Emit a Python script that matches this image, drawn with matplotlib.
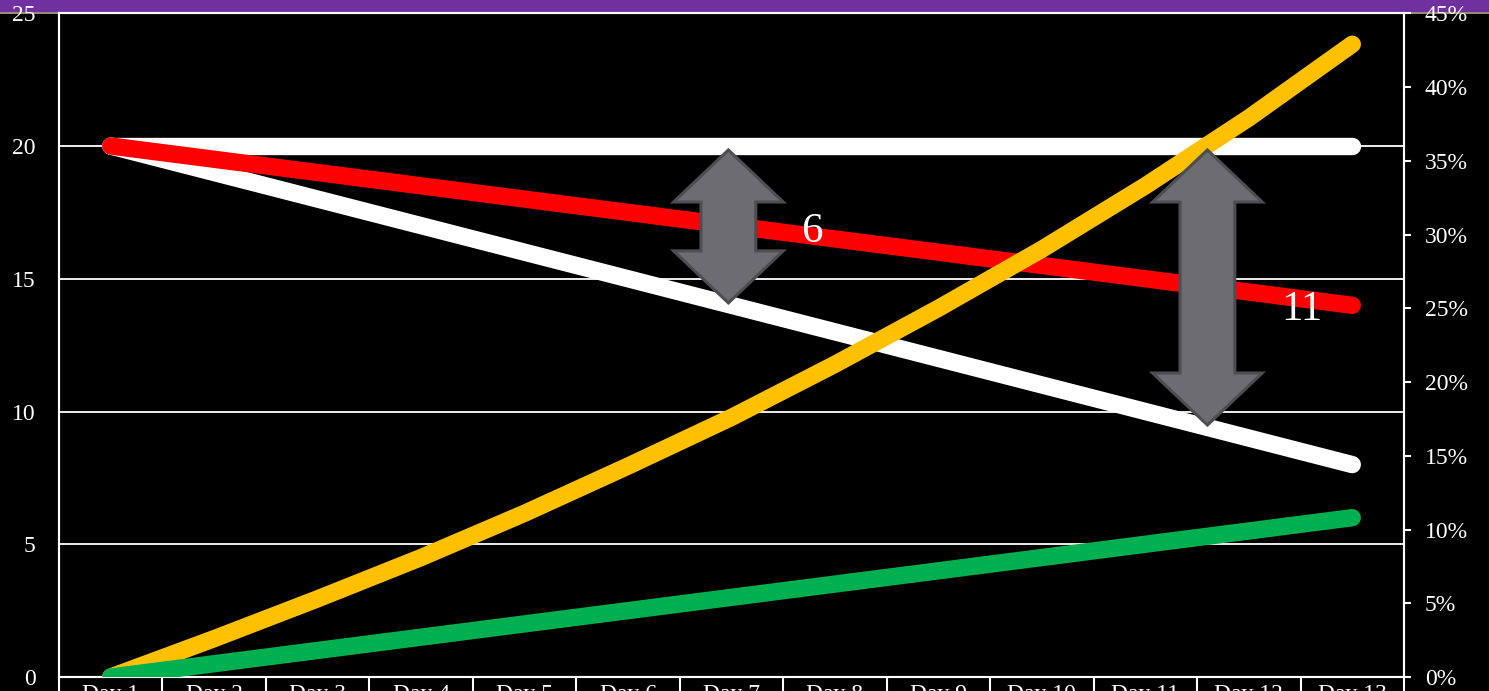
import matplotlib
matplotlib.use("Agg")
import matplotlib.pyplot as plt
from matplotlib.patches import Polygon, Rectangle
from matplotlib.lines import Line2D
from matplotlib.ticker import FuncFormatter, FixedLocator

plt.rcParams['font.family'] = ['Liberation Serif', 'DejaVu Serif']

# ---- data ----
days = [f"Day {i}" for i in range(1, 14)]
baseline = [20, 20, 20, 20, 20, 20, 20, 20, 20, 20, 20, 20, 20]
declining = [20, 19, 18, 17, 16, 15, 14, 13, 12, 11, 10, 9, 8]
red_series = [20, 19.5, 19, 18.5, 18, 17.5, 17, 16.5, 16, 15.5, 15, 14.5, 14]
green_series = [0, 0.5, 1, 1.5, 2, 2.5, 3, 3.5, 4, 4.5, 5, 5.5, 6]
yellow_pct = [0, 2.6, 5.3, 8.1, 11.1, 14.3, 17.6, 21.2, 25.0, 29.0, 33.3, 37.9, 42.9]
left_ticks = [0, 5, 10, 15, 20, 25]
right_ticks = [0, 5, 10, 15, 20, 25, 30, 35, 40, 45]
gap_labels = ["6", "11"]

W, H = 1489, 691
fig = plt.figure(figsize=(W / 100, H / 100), dpi=100, facecolor='black')
ax = fig.add_axes([59 / W, 14 / H, (1404 - 59) / W, (677 - 13.25) / H])
ax.set_facecolor('black')

# top band
fig.add_artist(Rectangle((0, 1 - 12 / H), 1, 12 / H, transform=fig.transFigure,
                         facecolor='#7030A0', edgecolor='none', zorder=-2))
fig.add_artist(Line2D([0, 1], [1 - 12.8 / H, 1 - 12.8 / H], transform=fig.transFigure,
                      color='#BBA98C', lw=1.2, zorder=-1))

x = list(range(len(days)))
lw = 12.5
ax.plot(x, baseline, color='white', lw=lw, solid_capstyle='round', zorder=3)
ax.plot(x, declining, color='white', lw=lw, solid_capstyle='round', zorder=4)
ax.plot(x, red_series, color='#FF0000', lw=lw, solid_capstyle='round', zorder=5)

ax.set_xlim(-0.5, len(days) - 0.5)
ax.set_ylim(0, 25)
ax.yaxis.set_major_locator(FixedLocator(left_ticks))
ax.grid(axis='y', color='white', lw=1.3, zorder=0)
ax.set_axisbelow(True)

for s in ['left', 'bottom', 'top', 'right']:
    ax.spines[s].set_color('white')
    ax.spines[s].set_linewidth(1.5)

ax.tick_params(axis='y', length=0, pad=17, labelsize=17, colors='white')
ax.set_xticks(x)
ax.set_xticklabels(days)
ax.set_xticks([i - 0.5 for i in range(len(days) + 1)], minor=True)
ax.tick_params(axis='x', which='major', length=0, pad=5, labelsize=17, colors='white')
ax.tick_params(axis='x', which='minor', length=20, width=1.5, color='white', direction='out')

ax2 = ax.twinx()
ax2.set_ylim(0, 45)
ax2.yaxis.set_major_locator(FixedLocator(right_ticks))
ax2.yaxis.set_major_formatter(FuncFormatter(lambda v, p: f"{v:.0f}%"))
ax2.tick_params(axis='y', length=5, width=1.5, color='white', pad=10, labelsize=17, labelcolor='white', direction='out')
for s in ['left', 'bottom', 'top', 'right']:
    ax2.spines[s].set_color('white')
    ax2.spines[s].set_linewidth(1.5)

ax2.plot(x, yellow_pct, color='#FFC000', lw=lw, solid_capstyle='round', zorder=6)
ax2.plot(x, green_series, color='#00B050', lw=lw, solid_capstyle='round', zorder=7,
         transform=ax.transData)
ax2.set_ylim(0, 45)


def double_arrow(axis, xc, y0, y1, hw, sw, hl):
    verts = [(xc, y1), (xc + hw, y1 - hl), (xc + sw, y1 - hl), (xc + sw, y0 + hl),
             (xc + hw, y0 + hl), (xc, y0), (xc - hw, y0 + hl), (xc - sw, y0 + hl),
             (xc - sw, y1 - hl), (xc - hw, y1 - hl)]
    axis.add_patch(Polygon(verts, closed=True, facecolor='#6D6C71', edgecolor='#4E4E52',
                           lw=2.2, transform=ax.transData, zorder=10, joinstyle='miter'))


double_arrow(ax2, 5.97, 14.09, 19.85, 0.53, 0.265, 1.96)
double_arrow(ax2, 10.6, 9.49, 19.85, 0.53, 0.265, 1.96)

ax2.text(6.78, 16.76, gap_labels[0], transform=ax.transData, color='white', fontsize=31,
         ha='center', va='center', zorder=11)
ax2.text(11.51, 13.82, gap_labels[1], transform=ax.transData, color='white', fontsize=31,
         ha='center', va='center', zorder=11)

fig.savefig('out.png', dpi=100, facecolor='black')
